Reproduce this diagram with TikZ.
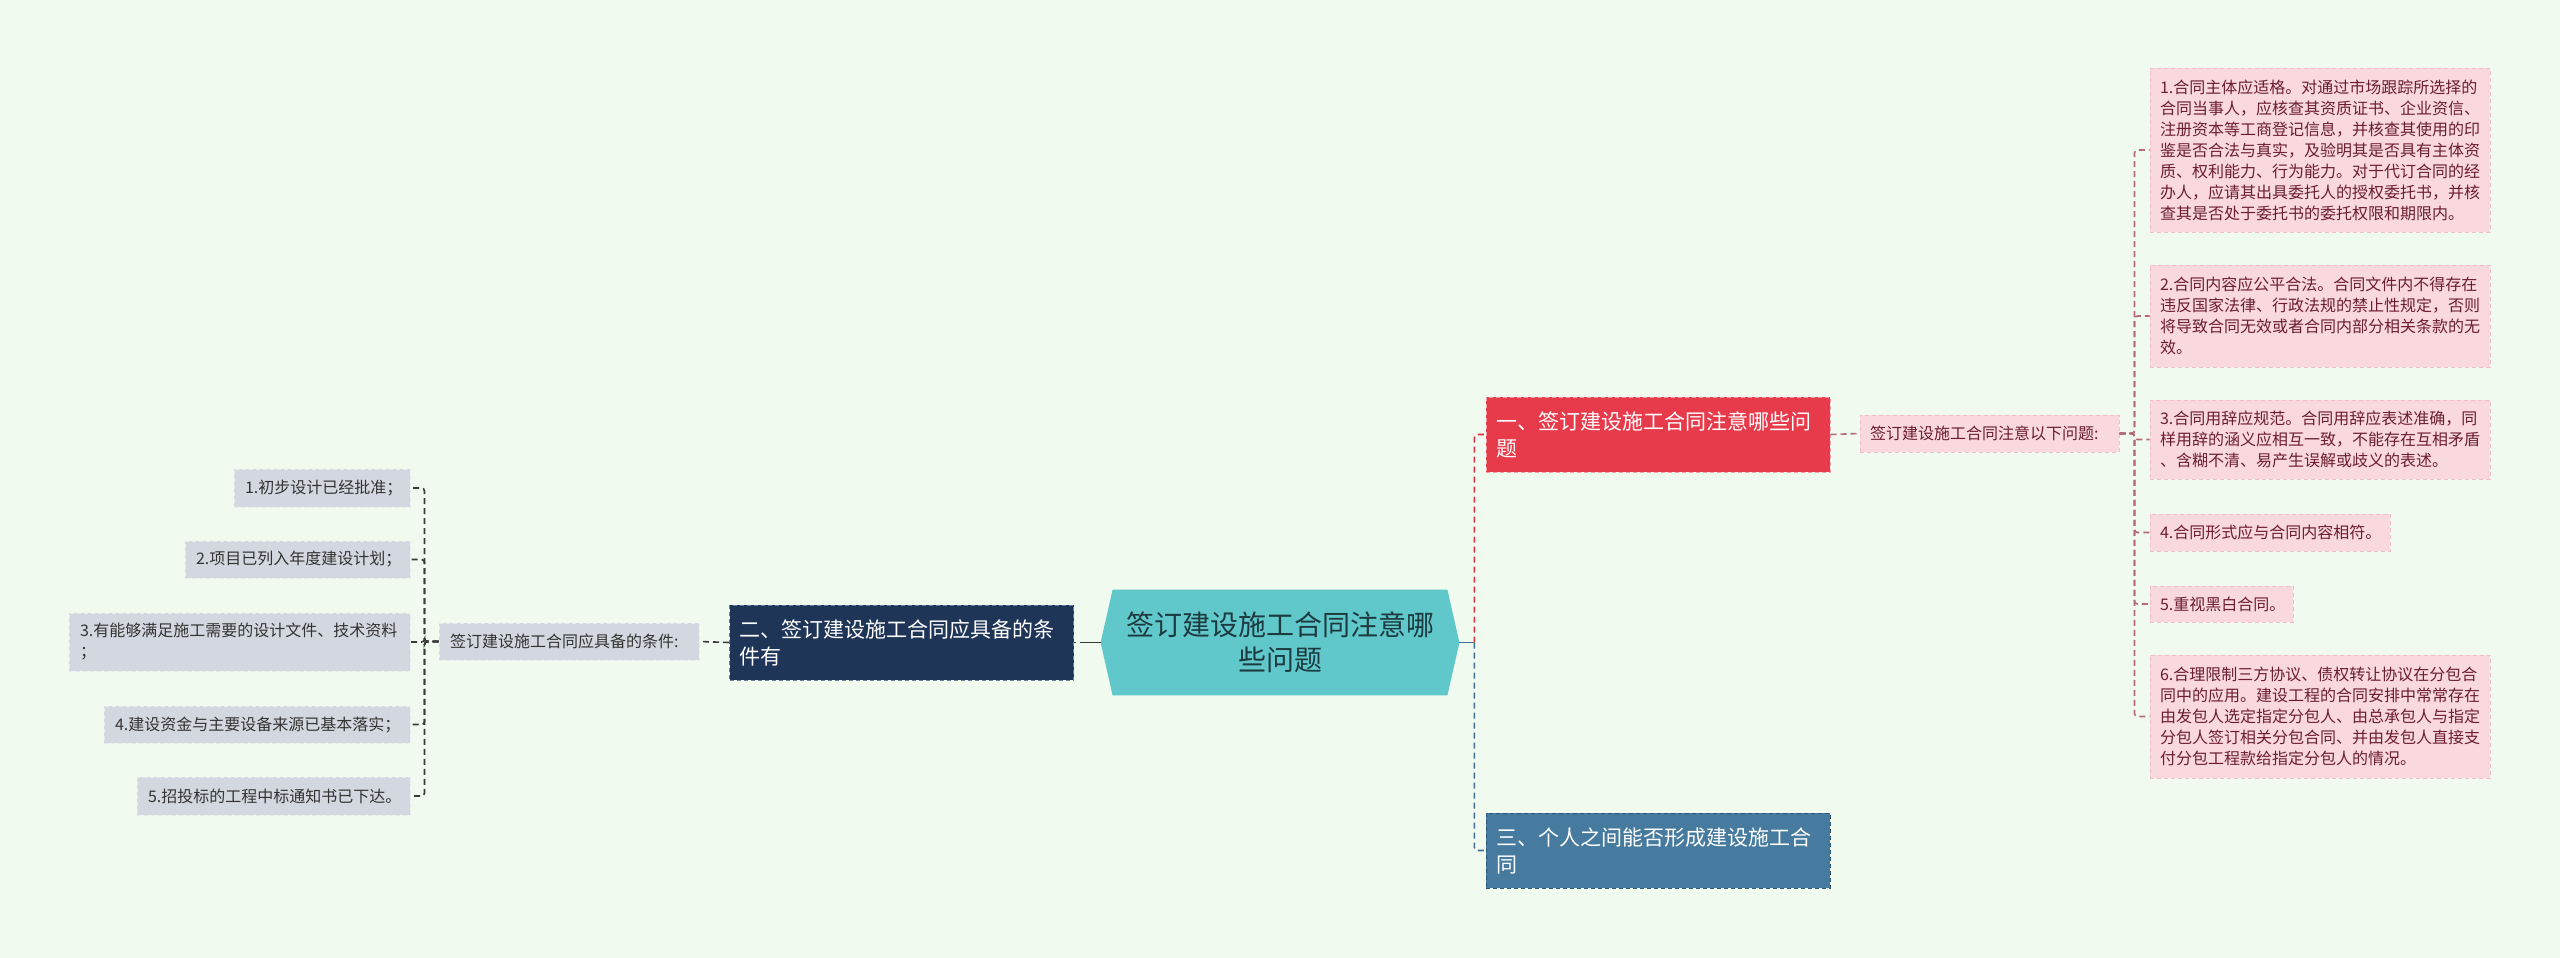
\documentclass[tikz,border=0pt]{standalone}
\usepackage{fontspec}
\setmainfont{Noto Sans CJK SC}
\usetikzlibrary{calc}
\definecolor{bgc}{HTML}{F0FAEF}
\definecolor{rootfill}{HTML}{60C8CB}
\definecolor{roottext}{HTML}{1C3A3F}
\definecolor{navyfill}{HTML}{1F3558}
\definecolor{navyborder}{HTML}{6A7F9E}
\definecolor{redfill}{HTML}{E73A4A}
\definecolor{redborder}{HTML}{F2A0A8}
\definecolor{bluefill}{HTML}{467A9E}
\definecolor{blueborder}{HTML}{2C5878}
\definecolor{greyfill}{HTML}{D3D7DF}
\definecolor{greyborder}{HTML}{E8EBF0}
\definecolor{greytext}{HTML}{333333}
\definecolor{pinkfill}{HTML}{FAD9DE}
\definecolor{pinkborder}{HTML}{F3BFC7}
\definecolor{pinktext}{HTML}{6B1E2E}
\definecolor{leftline}{HTML}{3A3A3A}
\definecolor{pinkline}{HTML}{B56A75}
\definecolor{redline}{HTML}{D9303F}
\definecolor{blueline}{HTML}{3F6F95}
\tikzset{
  boxbase/.style={rectangle, draw, dash pattern=on 2pt off 1.5pt, line width=0.5pt, inner ysep=0pt, align=left, anchor=center},
  leafg/.style={boxbase, fill=greyfill, draw=greyborder, text=greytext, font=\fontsize{8pt}{10.5pt}\selectfont, inner xsep=5.5pt},
  leafp/.style={boxbase, fill=pinkfill, draw=pinkborder, text=pinktext, font=\fontsize{8pt}{10.5pt}\selectfont, inner xsep=5pt},
  mainb/.style={boxbase, text=white, font=\fontsize{10.5pt}{13.5pt}\selectfont, inner xsep=5pt, minimum width=172pt, text width=162pt, minimum height=37.5pt},
  conn/.style={line width=0.8pt, dash pattern=on 3pt off 2pt, rounded corners=1.5pt},
}
\begin{document}
\begin{tikzpicture}[x=0.5pt,y=-0.5pt]
\fill[bgc] (0,0) rectangle (2560,958);
\useasboundingbox (0,0) rectangle (2560,958);

% root
\node (root) [minimum width=177pt, minimum height=52.5pt, inner sep=0pt] at (1280,642.5) {};
\fill[rootfill] ($(root.west)+(-2,0)$) -- ($(root.north west)+(10,0)$) -- ($(root.north east)+(-10,0)$) -- ($(root.east)+(2,0)$) -- ($(root.south east)+(-10,0)$) -- ($(root.south west)+(10,0)$) -- cycle;
\coordinate (rootL) at ($(root.west)+(-2,0)$);
\coordinate (rootR) at ($(root.east)+(2,0)$);
\node[text=roottext, font=\fontsize{14pt}{17.5pt}\selectfont, align=center] at (root.center) {签订建设施工合同注意哪\\些问题};

% left branch
\node (navy) [mainb, fill=navyfill, draw=navyborder] at (901.5,642.5) {二、签订建设施工合同应具备的条\\件有};
\node (gm) [leafg, minimum width=130pt, text width=119pt, minimum height=18.5pt] at (569,641.5) {签订建设施工合同应具备的条件:};
\node (L1) [leafg, minimum width=88pt, text width=77pt, minimum height=19pt] at (322,488) {1.初步设计已经批准；};
\node (L2) [leafg, minimum width=112.5pt, text width=101.5pt, minimum height=18.5pt] at (297.5,559.5) {2.项目已列入年度建设计划；};
\node (L3) [leafg, minimum width=170.5pt, text width=159.5pt, minimum height=29pt] at (239.5,642) {3.有能够满足施工需要的设计文件、技术资料\\；};
\node (L4) [leafg, minimum width=153pt, text width=142pt, minimum height=18.5pt] at (257,724.5) {4.建设资金与主要设备来源已基本落实；};
\node (L5) [leafg, minimum width=136.5pt, text width=125.5pt, minimum height=19pt] at (273.5,796) {5.招投标的工程中标通知书已下达。};

\draw[leftline, line width=0.8pt] (rootL) -- ++(-15,0) coordinate (nj);
\draw[leftline, conn] (nj) -- (navy.east);
\draw[leftline, conn] (navy.west) -- (gm.east);
\foreach \n in {L1,L2,L3,L4,L5}{
  \draw[leftline, conn] (gm.west) -- ++(-14,0) |- (\n.east);
}

% right branch
\node (red) [mainb, fill=redfill, draw=redborder] at (1658,434.5) {一、签订建设施工合同注意哪些问\\题};
\node (blue) [mainb, fill=bluefill, draw=blueborder] at (1658,850.5) {三、个人之间能否形成建设施工合\\同};
\draw[blueline, line width=0.8pt] (rootR) -- ++(15,0) coordinate (rj);
\draw[redline, conn] (rj) |- (red.west);
\draw[blueline, conn] (rj) |- (blue.west);

\node (pm) [leafp, minimum width=129.5pt, text width=119.5pt, minimum height=18.5pt] at (1989.5,433.5) {签订建设施工合同注意以下问题:};
\draw[pinkline, conn] (red.east) -- (pm.west);

\node (R1) [leafp, minimum width=170pt, text width=160pt, minimum height=82pt] at (2320,150) {1.合同主体应适格。对通过市场跟踪所选择的\\合同当事人，应核查其资质证书、企业资信、\\注册资本等工商登记信息，并核查其使用的印\\鉴是否合法与真实，及验明其是否具有主体资\\质、权利能力、行为能力。对于代订合同的经\\办人，应请其出具委托人的授权委托书，并核\\查其是否处于委托书的委托权限和期限内。};
\node (R2) [leafp, minimum width=170pt, text width=160pt, minimum height=51pt] at (2320,316) {2.合同内容应公平合法。合同文件内不得存在\\违反国家法律、行政法规的禁止性规定，否则\\将导致合同无效或者合同内部分相关条款的无\\效。};
\node (R3) [leafp, minimum width=170pt, text width=160pt, minimum height=39.5pt] at (2320,439.5) {3.合同用辞应规范。合同用辞应表述准确，同\\样用辞的涵义应相互一致，不能存在互相矛盾\\、含糊不清、易产生误解或歧义的表述。};
\node (R4) [leafp, minimum width=120pt, text width=110pt, minimum height=18.5pt] at (2270,532.5) {4.合同形式应与合同内容相符。};
\node (R5) [leafp, minimum width=71.5pt, text width=61.5pt, minimum height=18pt] at (2221.5,604) {5.重视黑白合同。};
\node (R6) [leafp, minimum width=170pt, text width=160pt, minimum height=61.5pt] at (2320,716.5) {6.合理限制三方协议、债权转让协议在分包合\\同中的应用。建设工程的合同安排中常常存在\\由发包人选定指定分包人、由总承包人与指定\\分包人签订相关分包合同、并由发包人直接支\\付分包工程款给指定分包人的情况。};
\foreach \n in {R1,R2,R3,R4,R5,R6}{
  \draw[pinkline, conn] (pm.east) -- ++(15,0) |- (\n.west);
}
\end{tikzpicture}
\end{document}
